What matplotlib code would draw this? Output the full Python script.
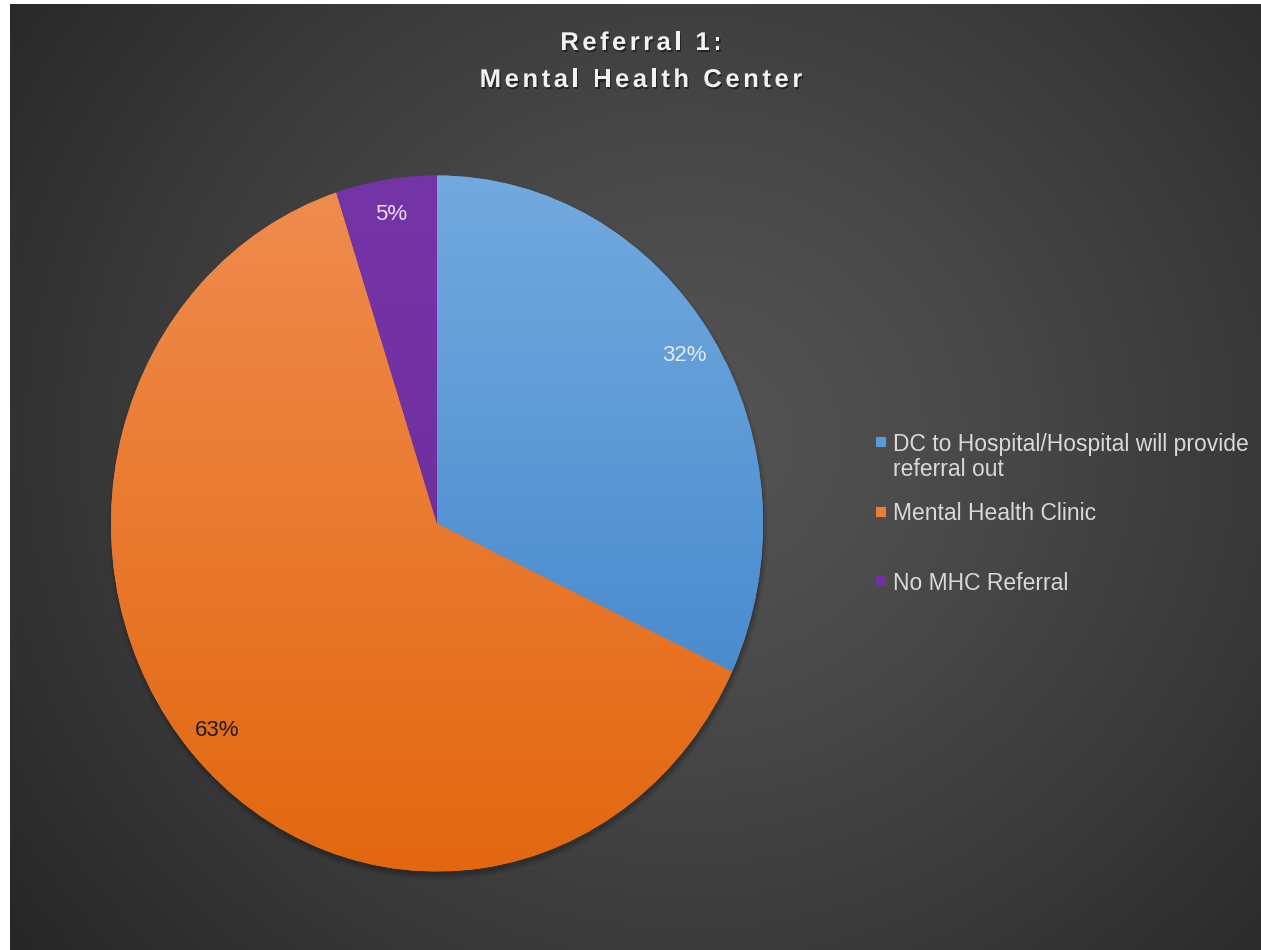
import numpy as np
import matplotlib
matplotlib.use('Agg')
import matplotlib.pyplot as plt
from matplotlib.colors import LinearSegmentedColormap
from matplotlib.patches import Rectangle, Ellipse
from matplotlib.font_manager import FontProperties, findfont, get_font
from matplotlib.transforms import IdentityTransform
import matplotlib.patheffects as pe

# ---------------- data ----------------
categories = ['DC to Hospital/Hospital will provide referral out',
              'Mental Health Clinic',
              'No MHC Referral']
legend_labels = ['DC to Hospital/Hospital will provide\nreferral out',
                 'Mental Health Clinic',
                 'No MHC Referral']
values = [32, 63, 5]
title_lines = ['Referral 1:', 'Mental Health Center']

# ---------------- style ----------------
base_colors = ['#5B9BD5', '#ED7D31', '#7030A0']
grad_top = ['#72aadf', '#f08c50', '#7535a7']
grad_bot = ['#3a7fc8', '#e3670f', '#6a2a98']
label_colors = ['#e3eaf3', '#1c1c1c', '#e9def2']

W, H = 1261, 950
DPI = 100
fig = plt.figure(figsize=(W / DPI, H / DPI), dpi=DPI, facecolor='white')
ident = IdentityTransform()


def Y(y_img):
    return H - y_img


# ---------------- background (radial gradient) ----------------
bg = fig.add_axes([10 / W, 0, (W - 10) / W, (H - 4) / H])
bg.set_axis_off()
xs = np.linspace(10, W, 420)
ys = np.linspace(4, H, 320)
XX, YY = np.meshgrid(xs, ys)
cxg, cyg = 690, 440
R = np.hypot(XX - cxg, (YY - cyg) * 1.05) / 860
val = 0.33 - (0.33 - 0.15) * np.clip(R, 0, 1) ** 1.25
bg.imshow(np.dstack([val] * 3), extent=(0, 1, 0, 1), aspect='auto',
          origin='upper', interpolation='bilinear')
bg.set_xlim(0, 1)
bg.set_ylim(0, 1)

# ---------------- pie ----------------
cx_p, cy_p, rx, ry = 437, 523.5, 326, 348
L = 1.06
ax = fig.add_axes([(cx_p - rx * L) / W, 1 - (cy_p + ry * L) / H,
                   2 * rx * L / W, 2 * ry * L / H])
ax.patch.set_alpha(0)

# soft shadow
for k, a in enumerate([0.06, 0.08, 0.12]):
    s = 1.0 + 0.006 * (2 - k)
    sh = Ellipse((0.004, -0.012), 2 * s, 2 * s, facecolor='black',
                 edgecolor='none', alpha=a, zorder=0.2, clip_on=False)
    ax.add_patch(sh)

wedges, texts, autotexts = ax.pie(
    values, colors=base_colors, startangle=90, counterclock=False,
    autopct='%1.0f%%', pctdistance=0.9,
    textprops=dict(fontsize=16, family='Liberation Sans'),
    wedgeprops=dict(linewidth=0))
ax.set_aspect('auto')

grad = np.linspace(0, 1, 256).reshape(-1, 1)
for w, t, b in zip(wedges, grad_top, grad_bot):
    cmap = LinearSegmentedColormap.from_list('g', [b, t])
    im = ax.imshow(grad, extent=(-1, 1, -1, 1), origin='lower', cmap=cmap,
                   aspect='auto', zorder=w.get_zorder() + 0.01,
                   interpolation='bilinear')
    im.set_clip_path(w)

for t, c in zip(autotexts, label_colors):
    t.set_color(c)
    t.set_zorder(5)

ax.set_xlim(-L, L)
ax.set_ylim(-L, L)
ax.set_axis_off()

# ---------------- title (letter-spaced) ----------------
tprop = FontProperties(family='Liberation Sans', weight='bold', size=18.5)
tfont = get_font(findfont(tprop))
tfont.set_size(18.5, DPI)


def spaced_text(s, xc, ybase, spacing):
    adv = [tfont.load_char(ord(ch)).linearHoriAdvance / 65536 for ch in s]
    total = sum(adv) + spacing * (len(s) - 1)
    x = xc - total / 2
    for ch, a in zip(s, adv):
        fig.text(x, Y(ybase), ch, transform=ident, fontproperties=tprop,
                 color='#f2f2f2', ha='left', va='baseline',
                 path_effects=[pe.SimplePatchShadow(offset=(1.0, -1.5),
                                                    shadow_rgbFace='black',
                                                    alpha=0.45),
                               pe.Normal()])
        x += a + spacing


spaced_text(title_lines[0], 641, 50, 3.4)
spaced_text(title_lines[1], 641, 87, 3.5)

# ---------------- legend ----------------
leg_size = 16.5
for i, (lab, col) in enumerate(zip(legend_labels, base_colors)):
    yc = 442 + 69.5 * i
    fig.patches.append(Rectangle((876, Y(yc + 5)), 10, 10, transform=ident,
                                 facecolor=col, edgecolor='none'))
    for j, line in enumerate(lab.split('\n')):
        fig.text(893, Y(yc + 8.5 + 26 * j), line, transform=ident,
                 family='Liberation Sans', fontsize=leg_size,
                 color='#d9d9d9', ha='left', va='baseline')

fig.savefig('out.png', dpi=DPI, facecolor='white')
